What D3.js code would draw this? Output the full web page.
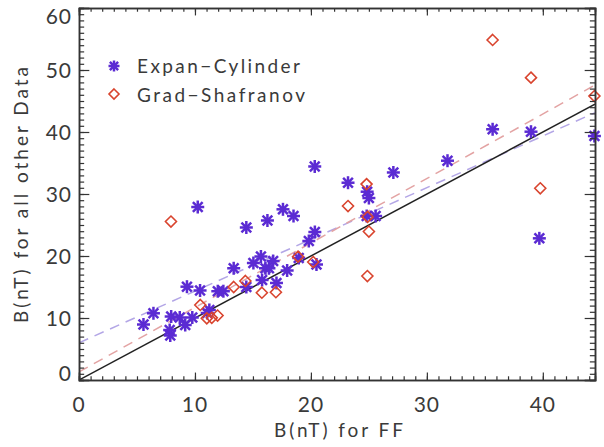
<html lang="en"><head>
<meta charset="utf-8">
<script src="https://d3js.org/d3.v7.min.js"></script>
<title>B(nT) comparison</title>
<style>
  body { margin: 0; background: #fff; }
  text { font-family: "Lato", "DejaVu Sans", sans-serif; fill: #3a3a3a; }
</style>
</head>
<body>
<div id="chart"></div>
<script>

// Expan-Cylinder (stars)
const expanX = [5.56, 6.42, 7.82, 7.87, 7.95, 8.69, 9.16, 9.31, 9.77, 10.24, 10.44, 11.24, 11.06,
                11.97, 12.45, 13.34, 14.43, 14.43, 15.04, 15.69, 15.79, 16.08, 16.38, 16.25, 16.74,
                17.03, 17.59, 17.95, 18.5, 18.95, 19.82, 20.34, 20.33, 20.48, 23.2, 24.85, 25.0,
                24.81, 25.58, 27.11, 31.78, 35.67, 38.98, 39.7, 44.45];
const expanY = [8.95, 10.76, 8.06, 7.18, 10.24, 10.08, 8.87, 15.05, 10.08, 27.9, 14.44, 11.3, 10.8,
                14.32, 14.32, 18.02, 24.6, 15.0, 18.87, 19.92, 16.13, 18.02, 18.02, 25.73, 19.19,
                15.65, 27.53, 17.66, 26.45, 19.68, 22.42, 23.87, 34.44, 18.63, 31.82, 30.37, 29.35,
                26.45, 26.45, 33.47, 35.37, 40.44, 40.05, 22.85, 39.35];

// Grad-Shafranov (diamonds)
const gradX = [7.93, 10.46, 11.02, 11.45, 11.95, 13.34, 14.35, 15.77, 16.98, 18.89, 20.2, 23.2,
               24.8, 24.89, 25.0, 24.87, 35.67, 38.98, 39.78, 44.45];
const gradY = [25.56, 12.1, 9.95, 10.03, 10.4, 15.0, 15.97, 14.08, 14.16, 19.89, 19.03, 28.06,
               31.6, 26.3, 23.95, 16.77, 54.84, 48.76, 30.92, 45.8];

// linear fits [intercept, slope]
const fitExpan = [6.0, 0.834];
const fitGrad = [1.3, 1.04];
const fitOne = [0, 1];

const xTicks = [0, 10, 20, 30, 40];
const yTicks = [0, 10, 20, 30, 40, 50, 60];
const seriesNames = ["Expan\u2212Cylinder", "Grad\u2212Shafranov"];

const W = 604, H = 447;
const pL = 79, pR = 595, pT = 8, pB = 380;

const svg = d3.select("#chart").append("svg")
    .attr("width", W).attr("height", H);

const x = d3.scaleLinear().domain([0, 44.5]).range([pL, pR]);
const y = d3.scaleLinear().domain([0, 60]).range([pB, pT]);

const purple = "#5b2bd3", red = "#d9442e", axisCol = "#333";

// clip for lines
svg.append("clipPath").attr("id", "clip")
  .append("rect").attr("x", pL).attr("y", pT)
  .attr("width", pR - pL).attr("height", pB - pT);

// fit lines
function fitLine(f, color, dash, w) {
  const xs = x.domain();
  svg.append("line")
    .attr("clip-path", "url(#clip)")
    .attr("x1", x(xs[0])).attr("y1", y(f[0] + f[1] * xs[0]))
    .attr("x2", x(xs[1])).attr("y2", y(f[0] + f[1] * xs[1]))
    .attr("stroke", color).attr("stroke-width", w)
    .attr("stroke-dasharray", dash);
}
fitLine(fitExpan, "#b3a6e6", "10,7", 1.5);
fitLine(fitGrad, "#e3a3a3", "10,7", 1.5);
fitLine(fitOne, "#222", null, 1.5);

// star marker
function star(g, cx, cy, r) {
  const s = r * 0.75;
  [[0, -r, 0, r], [-r, 0, r, 0], [-s, -s, s, s], [-s, s, s, -s]].forEach(d => {
    g.append("line")
      .attr("x1", cx + d[0]).attr("y1", cy + d[1])
      .attr("x2", cx + d[2]).attr("y2", cy + d[3])
      .attr("stroke", purple).attr("stroke-width", 2.5);
  });
  g.append("circle").attr("cx", cx).attr("cy", cy).attr("r", r * 0.4).attr("fill", purple);
}
function diamond(g, cx, cy, r) {
  g.append("path")
    .attr("d", `M${cx},${cy - r}L${cx + r},${cy}L${cx},${cy + r}L${cx - r},${cy}Z`)
    .attr("fill", "none").attr("stroke", red).attr("stroke-width", 1.6);
}

const gStars = svg.append("g");
expanX.forEach((v, i) => star(gStars, x(v), y(expanY[i]), 6.5));
const gDiam = svg.append("g");
gradX.forEach((v, i) => diamond(gDiam, x(v), y(gradY[i]), 5.5));

// axes frame with inward ticks
const xLen = 0.02 * (pB - pT), yLen = 0.02 * (pR - pL);
svg.append("g").attr("transform", `translate(0,${pB})`)
  .call(d3.axisTop(x).tickValues(d3.range(0, 45, 1)).tickSize(xLen / 2).tickFormat(""));
svg.append("g").attr("transform", `translate(0,${pB})`)
  .call(d3.axisTop(x).tickValues(xTicks).tickSize(xLen).tickFormat(""));
svg.append("g").attr("transform", `translate(0,${pT})`)
  .call(d3.axisBottom(x).tickValues(d3.range(0, 45, 1)).tickSize(xLen / 2).tickFormat(""));
svg.append("g").attr("transform", `translate(0,${pT})`)
  .call(d3.axisBottom(x).tickValues(xTicks).tickSize(xLen).tickFormat(""));
svg.append("g").attr("transform", `translate(${pL},0)`)
  .call(d3.axisRight(y).tickValues(d3.range(0, 61, 1)).tickSize(yLen / 2).tickFormat(""));
svg.append("g").attr("transform", `translate(${pL},0)`)
  .call(d3.axisRight(y).tickValues(yTicks).tickSize(yLen).tickFormat(""));
svg.append("g").attr("transform", `translate(${pR},0)`)
  .call(d3.axisLeft(y).tickValues(d3.range(0, 61, 1)).tickSize(yLen / 2).tickFormat(""));
svg.append("g").attr("transform", `translate(${pR},0)`)
  .call(d3.axisLeft(y).tickValues(yTicks).tickSize(yLen).tickFormat(""));
svg.selectAll(".domain").attr("stroke", axisCol).attr("stroke-width", 1.5);
svg.selectAll(".tick line").attr("stroke", axisCol).attr("stroke-width", 1.2);

// tick labels
svg.append("g").selectAll("text").data(xTicks).join("text")
  .attr("x", d => x(d)).attr("y", 412)
  .attr("text-anchor", "middle").attr("font-size", 21)
  .attr("letter-spacing", 1)
  .text(d => d);
svg.append("g").selectAll("text").data(yTicks).join("text")
  .attr("x", 72).attr("y", d => Math.min(Math.max(y(d), 16), 373))
  .attr("dy", "0.36em")
  .attr("text-anchor", "end").attr("font-size", 21)
  .attr("letter-spacing", 1)
  .text(d => d);

// axis titles
svg.append("text").attr("x", 274).attr("y", 437)
  .attr("font-size", 19)
  .attr("textLength", 129).attr("lengthAdjust", "spacing")
  .text("B(nT) for FF");
svg.append("text")
  .attr("transform", "translate(28,323) rotate(-90)")
  .attr("font-size", 19)
  .attr("textLength", 256).attr("lengthAdjust", "spacing")
  .text("B(nT) for all other Data");

// legend
const gLeg = svg.append("g");
star(gLeg, 114, 66, 5.5);
diamond(gLeg, 114, 94, 5);
gLeg.append("text").attr("x", 137).attr("y", 73).attr("font-size", 19)
  .attr("textLength", 163).attr("lengthAdjust", "spacing").text(seriesNames[0]);
gLeg.append("text").attr("x", 137).attr("y", 102).attr("font-size", 19)
  .attr("textLength", 168).attr("lengthAdjust", "spacing").text(seriesNames[1]);

</script>
</body>
</html>
